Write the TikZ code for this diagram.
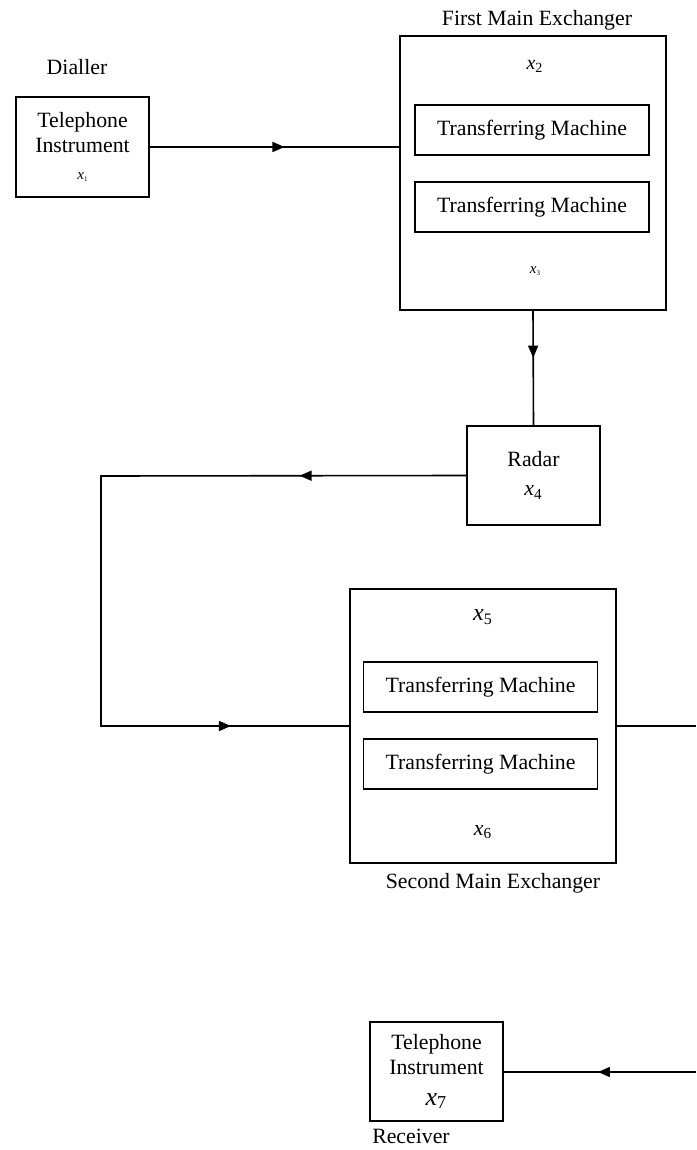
\documentclass[tikz,border=0pt]{standalone}
\usepackage{fontspec}
\setmainfont{Liberation Serif}
\usetikzlibrary{positioning,arrows.meta,decorations.markings}
\newcommand{\xsub}[1]{\textit{x}\textsubscript{#1}}
\newcommand{\tinyx}[1]{{\fontsize{7.5}{8}\selectfont\textit{x}{\fontsize{3.5}{4}\selectfont\raisebox{-1pt}{#1}}}}

\begin{document}
\begin{tikzpicture}[x=0.5pt, y=-0.5pt, font=\fontsize{10.9}{12.5}\selectfont, line width=0.8pt]

\tikzstyle{PHONE} = [rectangle, minimum width=66.5pt, minimum height=50pt, align=center, inner sep=0pt, draw=black]
\tikzstyle{EXCH} = [rectangle, minimum width=133pt, minimum height=137pt, draw=black]
\tikzstyle{MACH} = [rectangle, minimum width=117pt, minimum height=25pt, inner sep=0pt, draw=black]
\tikzstyle{midarrow} = [postaction={decorate, decoration={markings, mark=at position #1 with {\arrow{Triangle[length=6pt,width=5pt]}}}}]

\useasboundingbox (0,0) rectangle (696,1150);

\node (ti1) [PHONE] at (82.5,147) {Telephone\\Instrument\\[1pt]\tinyx{1}};
\node (dial) [above=7pt of ti1, xshift=-2.75pt] {Dialler};

\node (fme) [EXCH] at (533,173) {};
\node (fmelab) [above=-1pt of fme, xshift=2pt] {First Main Exchanger};
\node (x2) at (535,66) {\fontsize{10}{12}\selectfont\xsub{2}};
\node (tm1) [MACH] at (532,130) {Transferring Machine};
\node (tm2) [MACH] at (532,207) {Transferring Machine};
\node (x3) at (535,271) {\tinyx{3}};

\node (radar) [PHONE, minimum height=49.5pt] at (533.5,475.5) {Radar\\[2pt]\xsub{4}};

\node (sme) [EXCH] at (483,726) {};
\node (smelab) [below=1pt of sme, xshift=5pt] {Second Main Exchanger};
\node (x5) at (483,617) {\fontsize{12}{14}\selectfont\xsub{5}};
\node (tm3) [MACH] at (480.5,687) {Transferring Machine};
\node (tm4) [MACH] at (480.5,764) {Transferring Machine};
\node (x6) at (483,832) {\xsub{6}};

\node (ti2) [PHONE, minimum height=49.5pt] at (436.5,1071.5) {Telephone\\Instrument\\[3pt]{\fontsize{13}{14}\selectfont\xsub{7}}};
\node (recv) [below=0pt of ti2, xshift=-12.75pt] {Receiver};

\coordinate (loop) at (101,476);
\coordinate (outA) at (696,724);
\coordinate (outB) at (696,1072);

\draw[midarrow=0.54] (ti1.east) -- (ti1.east -| fme.west);
\draw[midarrow=0.41] (fme.south) -- (radar.north);
\draw[midarrow=0.193, midarrow=0.863] (radar.west) -- (loop) |- (sme.west);
\draw (sme.east) -- (sme.east -| outA);
\draw[midarrow=0.51] (outB) -- (outB -| ti2.east);

\end{tikzpicture}
\end{document}
